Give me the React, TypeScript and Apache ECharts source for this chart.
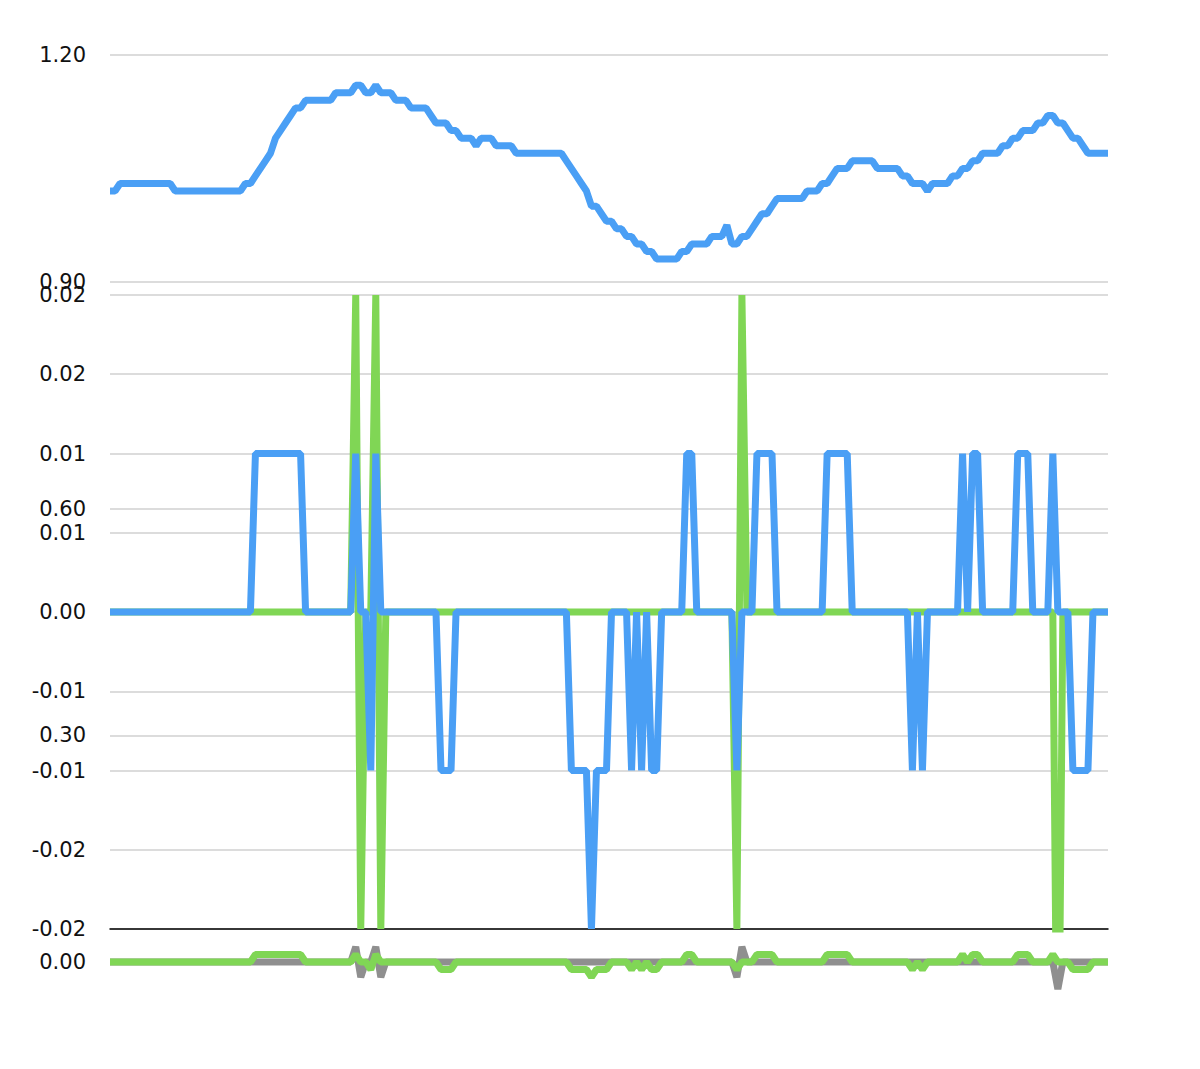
import React, { useEffect, useRef } from "react";
import * as echarts from "echarts";

const BLUE = "#4A9FF5";
const GREEN = "#80D655";
const GRAY = "#8F8F8F";

const categories: string[] = Array.from({ length: 200 }, (_, i) => String(i + 1));

const priceValues = [
  1.02, 1.02, 1.03, 1.03, 1.03, 1.03, 1.03, 1.03, 1.03, 1.03,
  1.03, 1.03, 1.03, 1.02, 1.02, 1.02, 1.02, 1.02, 1.02, 1.02,
  1.02, 1.02, 1.02, 1.02, 1.02, 1.02, 1.02, 1.03, 1.03, 1.04,
  1.05, 1.06, 1.07, 1.09, 1.10, 1.11, 1.12, 1.13, 1.13, 1.14,
  1.14, 1.14, 1.14, 1.14, 1.14, 1.15, 1.15, 1.15, 1.15, 1.16,
  1.16, 1.15, 1.15, 1.16, 1.15, 1.15, 1.15, 1.14, 1.14, 1.14,
  1.13, 1.13, 1.13, 1.13, 1.12, 1.11, 1.11, 1.11, 1.10, 1.10,
  1.09, 1.09, 1.09, 1.08, 1.09, 1.09, 1.09, 1.08, 1.08, 1.08,
  1.08, 1.07, 1.07, 1.07, 1.07, 1.07, 1.07, 1.07, 1.07, 1.07,
  1.07, 1.06, 1.05, 1.04, 1.03, 1.02, 1.00, 1.00, 0.99, 0.98,
  0.98, 0.97, 0.97, 0.96, 0.96, 0.95, 0.95, 0.94, 0.94, 0.93,
  0.93, 0.93, 0.93, 0.93, 0.94, 0.94, 0.95, 0.95, 0.95, 0.95,
  0.96, 0.96, 0.96, 0.975, 0.95, 0.95, 0.96, 0.96, 0.97, 0.98,
  0.99, 0.99, 1.00, 1.01, 1.01, 1.01, 1.01, 1.01, 1.01, 1.02,
  1.02, 1.02, 1.03, 1.03, 1.04, 1.05, 1.05, 1.05, 1.06, 1.06,
  1.06, 1.06, 1.06, 1.05, 1.05, 1.05, 1.05, 1.05, 1.04, 1.04,
  1.03, 1.03, 1.03, 1.02, 1.03, 1.03, 1.03, 1.03, 1.04, 1.04,
  1.05, 1.05, 1.06, 1.06, 1.07, 1.07, 1.07, 1.07, 1.08, 1.08,
  1.09, 1.09, 1.10, 1.10, 1.10, 1.11, 1.11, 1.12, 1.12, 1.11,
  1.11, 1.10, 1.09, 1.09, 1.08, 1.07, 1.07, 1.07, 1.07, 1.07,
];

const macdValues = [
  0, 0, 0, 0, 0, 0, 0, 0, 0, 0,
  0, 0, 0, 0, 0, 0, 0, 0, 0, 0,
  0, 0, 0, 0, 0, 0, 0, 0, 0, 0.01,
  0.01, 0.01, 0.01, 0.01, 0.01, 0.01, 0.01, 0.01, 0.01, 0,
  0, 0, 0, 0, 0, 0, 0, 0, 0, 0.01,
  0, 0, -0.01, 0.01, 0, 0, 0, 0, 0, 0,
  0, 0, 0, 0, 0, 0, -0.01, -0.01, -0.01, 0,
  0, 0, 0, 0, 0, 0, 0, 0, 0, 0,
  0, 0, 0, 0, 0, 0, 0, 0, 0, 0,
  0, 0, -0.01, -0.01, -0.01, -0.01, -0.02, -0.01, -0.01, -0.01,
  0, 0, 0, 0, -0.01, 0, -0.01, 0, -0.01, -0.01,
  0, 0, 0, 0, 0, 0.01, 0.01, 0, 0, 0,
  0, 0, 0, 0, 0, -0.01, 0, 0, 0, 0.01,
  0.01, 0.01, 0.01, 0, 0, 0, 0, 0, 0, 0,
  0, 0, 0, 0.01, 0.01, 0.01, 0.01, 0.01, 0, 0,
  0, 0, 0, 0, 0, 0, 0, 0, 0, 0,
  -0.01, 0, -0.01, 0, 0, 0, 0, 0, 0, 0,
  0.01, 0, 0.01, 0.01, 0, 0, 0, 0, 0, 0,
  0, 0.01, 0.01, 0.01, 0, 0, 0, 0, 0.01, 0,
  0, 0, -0.01, -0.01, -0.01, -0.01, 0, 0, 0, 0,
];

const histValues = [
  0, 0, 0, 0, 0, 0, 0, 0, 0, 0,
  0, 0, 0, 0, 0, 0, 0, 0, 0, 0,
  0, 0, 0, 0, 0, 0, 0, 0, 0, 0,
  0, 0, 0, 0, 0, 0, 0, 0, 0, 0,
  0, 0, 0, 0, 0, 0, 0, 0, 0, 0.02,
  -0.02, 0, 0, 0.02, -0.02, 0, 0, 0, 0, 0,
  0, 0, 0, 0, 0, 0, 0, 0, 0, 0,
  0, 0, 0, 0, 0, 0, 0, 0, 0, 0,
  0, 0, 0, 0, 0, 0, 0, 0, 0, 0,
  0, 0, 0, 0, 0, 0, 0, 0, 0, 0,
  0, 0, 0, 0, 0, 0, 0, 0, 0, 0,
  0, 0, 0, 0, 0, 0, 0, 0, 0, 0,
  0, 0, 0, 0, 0, -0.02, 0.02, 0, 0, 0,
  0, 0, 0, 0, 0, 0, 0, 0, 0, 0,
  0, 0, 0, 0, 0, 0, 0, 0, 0, 0,
  0, 0, 0, 0, 0, 0, 0, 0, 0, 0,
  0, 0, 0, 0, 0, 0, 0, 0, 0, 0,
  0, 0, 0, 0, 0, 0, 0, 0, 0, 0,
  0, 0, 0, 0, 0, 0, 0, 0, 0, -0.036,
  0, 0, 0, 0, 0, 0, 0, 0, 0, 0,
];

const fmt2 = (v: number) => {
  const r = (Math.sign(v) * Math.round(Math.abs(v) * 100 + 1e-9)) / 100;
  return (r === 0 ? 0 : r).toFixed(2);
};

const labelStyle = {
  color: "#111",
  fontSize: 21,
  fontFamily: "DejaVu Sans",
  margin: 24,
  formatter: fmt2,
};

const splitStyle = { show: true, lineStyle: { color: "#d0d0d0", width: 1.5 } };

export default function App() {
  const ref = useRef<HTMLDivElement>(null);
  useEffect(() => {
    document.body.style.margin = "0";
    const chart = echarts.init(ref.current!, undefined, { renderer: "svg" });
    const lineSeries = (
      data: number[],
      color: string,
      axis: number,
      clip: boolean
    ) => ({
      type: "line",
      xAxisIndex: axis,
      yAxisIndex: axis,
      data,
      symbol: "none",
      showSymbol: false,
      clip,
      color,
      lineStyle: { color, width: 7 },
    });
    chart.setOption({
      animation: false,
      backgroundColor: "#fff",
      grid: [
        { left: 110, right: 92, top: 55, bottom: 107 },
        { left: 110, right: 92, top: 295, bottom: 140 },
      ],
      xAxis: [
        { gridIndex: 0, type: "category", data: categories, boundaryGap: false, show: false },
        {
          gridIndex: 1,
          type: "category",
          data: categories,
          boundaryGap: false,
          axisLine: { show: true, onZero: false, lineStyle: { color: "#000", width: 1.5 } },
          axisTick: { show: false },
          axisLabel: { show: false },
          splitLine: { show: false },
        },
      ],
      yAxis: [
        {
          gridIndex: 0,
          type: "value",
          min: 0,
          max: 1.2,
          interval: 0.3,
          axisLine: { show: false },
          axisTick: { show: false },
          axisLabel: labelStyle,
          splitLine: splitStyle,
        },
        {
          gridIndex: 1,
          type: "value",
          min: -0.02,
          max: 0.02,
          interval: 0.005,
          axisLine: { show: false },
          axisTick: { show: false },
          axisLabel: labelStyle,
          splitLine: splitStyle,
        },
      ],
      series: [
        lineSeries(histValues, GRAY, 0, false),
        lineSeries(macdValues, GREEN, 0, false),
        lineSeries(priceValues, BLUE, 0, true),
        lineSeries(histValues, GREEN, 1, true),
        lineSeries(macdValues, BLUE, 1, true),
      ],
    });
    return () => chart.dispose();
  }, []);
  return <div ref={ref} style={{ width: 1200, height: 1069 }} />;
}
